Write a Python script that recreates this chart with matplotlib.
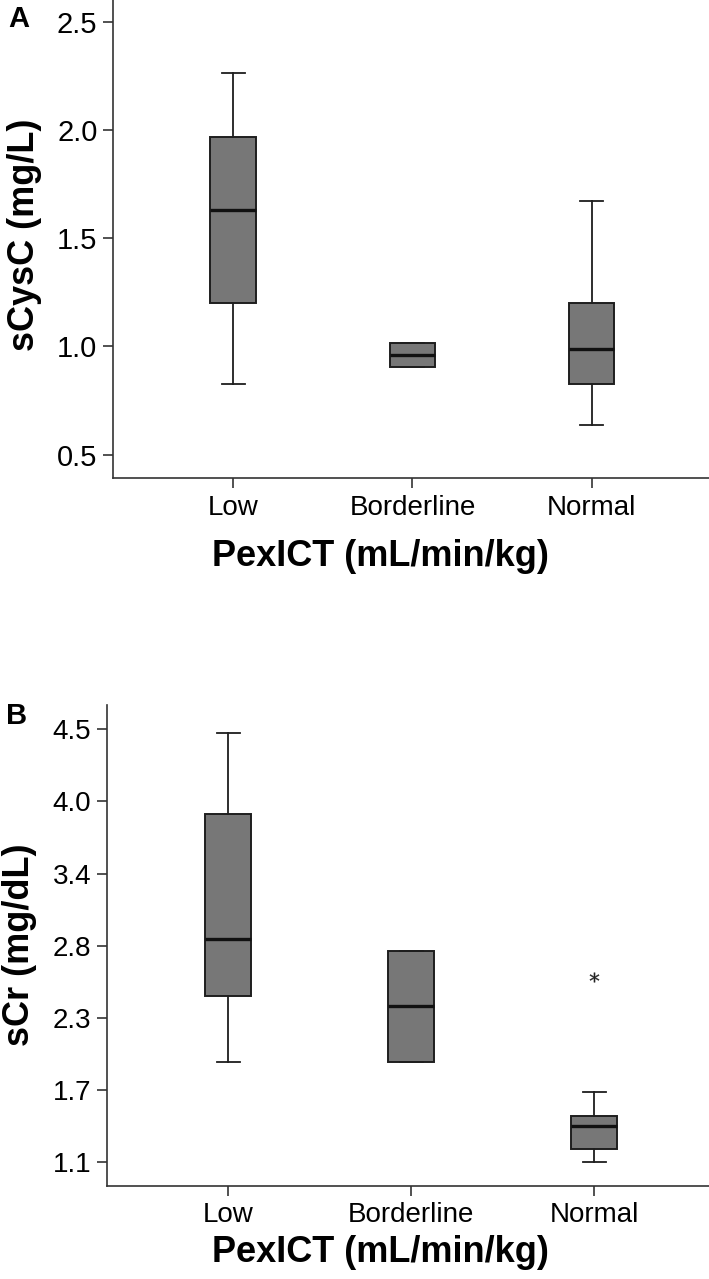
import numpy as np
import matplotlib
matplotlib.use('Agg')
import matplotlib.pyplot as plt

plt.rcParams['font.family'] = ['Liberation Sans', 'DejaVu Sans']

# %%
# Group labels and box statistics
groups = ['Low', 'Borderline', 'Normal']

# Panel A: sCysC (mg/L)
cys_whislo = [0.824, 0.903, 0.638]
cys_q1     = [1.20, 0.903, 0.824]
cys_med    = [1.63, 0.960, 0.986]
cys_q3     = [1.966, 1.015, 1.201]
cys_whishi = [2.263, 1.015, 1.67]
cys_fliers = [[], [], []]
cys_ticks  = [0.5, 1.0, 1.5, 2.0, 2.5]

# Panel B: sCr (mg/dL)
cr_whislo = [1.91, 1.91, 1.12]
cr_q1     = [2.43, 1.91, 1.22]
cr_med    = [2.88, 2.35, 1.40]
cr_q3     = [3.87, 2.79, 1.48]
cr_whishi = [4.51, 2.79, 1.67]
cr_fliers = [[], [], [2.58]]
cr_ticks  = [1.12, 1.69, 2.26, 2.83, 3.40, 3.97, 4.54]
cr_labels = ['1.1', '1.7', '2.3', '2.8', '3.4', '4.0', '4.5']

fill = '#777777'
edge = '#1e1e1e'


def make_stats(lo, q1, med, q3, hi, fl):
    out = []
    for i in range(len(groups)):
        out.append(dict(whislo=lo[i], q1=q1[i], med=med[i], q3=q3[i],
                        whishi=hi[i], fliers=fl[i], label=groups[i]))
    return out


def draw_panel(ax, stats, width, ytick_size):
    ax.bxp(stats, positions=[1, 2, 3], widths=width, patch_artist=True,
           showfliers=True, capwidths=width / 2,
           boxprops=dict(facecolor=fill, edgecolor=edge, linewidth=1.4),
           medianprops=dict(color='#111111', linewidth=2.4),
           whiskerprops=dict(color=edge, linewidth=1.3),
           capprops=dict(color=edge, linewidth=1.3),
           flierprops=dict(marker='$*$', markersize=7, markerfacecolor='#222222',
                           markeredgecolor='#222222', markeredgewidth=0.2))
    for s in ['top', 'right']:
        ax.spines[s].set_visible(False)
    for s in ['left', 'bottom']:
        ax.spines[s].set_color('#333333')
        ax.spines[s].set_linewidth(1.2)
    ax.tick_params(axis='both', length=7, width=1.2, color='#333333', pad=4)
    ax.tick_params(axis='y', labelsize=ytick_size)
    ax.tick_params(axis='x', labelsize=20, pad=5)
    ax.set_xticks([1, 2, 3])
    ax.set_xticklabels(groups)
    ax.set_xlabel('PexICT (mL/min/kg)', fontsize=26, fontweight='bold')


fig = plt.figure(figsize=(7.09, 12.79), dpi=100)

# Panel A
ax1 = fig.add_axes([0.159, 0.626, 0.841, 0.374])
draw_panel(ax1, make_stats(cys_whislo, cys_q1, cys_med, cys_q3, cys_whishi, cys_fliers), 0.255, 21)
ax1.set_xlim(0.327, 3.655)
ax1.set_ylim(0.39, 2.60)
ax1.set_yticks(cys_ticks)
ax1.set_yticklabels(['%.1f' % t for t in cys_ticks])
ax1.set_ylabel('sCysC (mg/L)', fontsize=26, fontweight='bold')
ax1.yaxis.set_label_coords(-0.119, 0.51)
ax1.xaxis.set_label_coords(0.449, -0.126)

# Panel B
ax2 = fig.add_axes([0.1505, 0.0731, 0.8495, 0.3757])
draw_panel(ax2, make_stats(cr_whislo, cr_q1, cr_med, cr_q3, cr_whishi, cr_fliers), 0.251, 20)
ax2.set_xlim(0.336, 3.627)
ax2.set_ylim(0.932, 4.733)
ax2.set_yticks(cr_ticks)
ax2.set_yticklabels(cr_labels)
ax2.set_ylabel('sCr (mg/dL)', fontsize=26, fontweight='bold')
ax2.yaxis.set_label_coords(-0.116, 0.5)
ax2.xaxis.set_label_coords(0.454, -0.104)

fig.text(0.011, 0.985, 'A', fontsize=21, fontweight='bold', va='center', ha='left')
fig.text(0.008, 0.440, 'B', fontsize=21, fontweight='bold', va='center', ha='left')

fig.savefig('out.png', dpi=100)
